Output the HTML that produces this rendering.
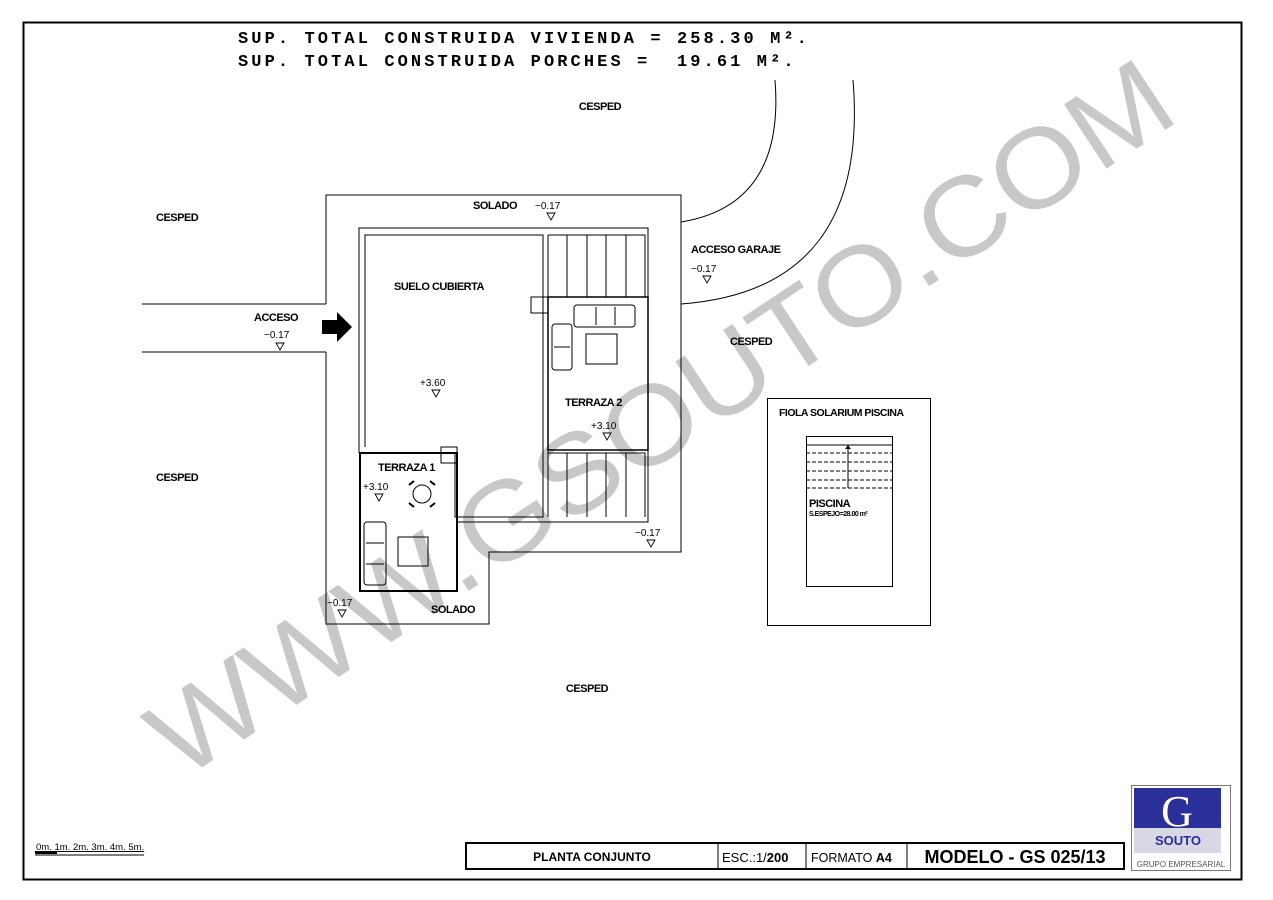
<!DOCTYPE html>
<html><head><meta charset="utf-8"><style>
html,body{margin:0;padding:0;background:#fff}
svg{display:block}
text{font-family:"Liberation Sans",sans-serif}
.b{font-weight:bold;font-size:11px;letter-spacing:-0.5px}
.n{font-size:10px}
</style></head><body>
<svg width="1273" height="900" viewBox="0 0 1273 900" xmlns="http://www.w3.org/2000/svg">
<rect x="0" y="0" width="1273" height="900" fill="#fff"/>
<rect x="23.5" y="22.5" width="1218" height="857" fill="none" stroke="#000" stroke-width="2"/>

<text x="238" y="43" font-size="17" font-weight="bold" letter-spacing="3.1" style="font-family:'Liberation Mono',monospace">SUP. TOTAL CONSTRUIDA VIVIENDA = 258.30 M².</text>
<text x="238" y="66" font-size="17" font-weight="bold" letter-spacing="3.1" style="font-family:'Liberation Mono',monospace">SUP. TOTAL CONSTRUIDA PORCHES =&#160; 19.61 M².</text>

<!-- watermark -->
<text x="665" y="455" font-size="112" fill="#c8c8c8" text-anchor="middle" textLength="1200" lengthAdjust="spacingAndGlyphs" transform="rotate(-33.5 665 425)">WWW.GSOUTO.COM</text>

<g fill="none" stroke="#000" stroke-width="1">
<path d="M681,222 Q785,205 775,80"/>
<path d="M681,304 Q870,290 853,80"/>
<path d="M326,304 V195 H681 V552 H489 V624 H326 V352"/>
<path d="M142,304 H326 M142,352 H326"/>
<path d="M359,453 V228 H648 V522 H457"/>
<path d="M365,447 V235 H543 V517 H455 V453"/>
<path d="M548,235 V517"/>
<rect x="360" y="453" width="97" height="138" stroke-width="2"/>
<rect x="441" y="447" width="16" height="16"/>
<rect x="531" y="297" width="17" height="16"/>
<rect x="548" y="297" width="100" height="153" stroke-width="1.5"/>
<path d="M548,235 H645 V297 M567,235 V297 M587,235 V297 M606,235 V297 M626,235 V297"/>
<path d="M548,453 H645 V517 M567,453 V517 M587,453 V517 M606,453 V517 M626,453 V517"/>
<rect x="574" y="305" width="61" height="22" rx="3"/>
<path d="M596,307 V325 M615,307 V325"/>
<rect x="552" y="324" width="20" height="46" rx="3"/>
<path d="M554,347 H570"/>
<rect x="586" y="334" width="31" height="30"/>
<circle cx="422" cy="494" r="9"/>
<path d="M409,485 l5,-4 M435,485 l-5,-4 M409,503 l5,4 M435,503 l-5,4" stroke-width="2"/>
<rect x="364" y="522" width="22" height="63" rx="3"/>
<path d="M366,543 H384 M366,564 H384"/>
<rect x="398" y="537" width="30" height="29"/>
<rect x="767.5" y="398.5" width="163" height="227"/>
<rect x="806.5" y="436.5" width="86" height="150"/>
<path d="M806,445 H892"/>
<path d="M806,453 H892 M806,462 H892 M806,471 H892 M806,480 H892 M806,488 H892" stroke-dasharray="4,2"/>
<path d="M848,448 V488"/>
<rect x="466" y="843" width="658" height="26" stroke-width="2"/>
<path d="M718,843 V869 M806,843 V869 M907,843 V869"/>
<rect x="1131.5" y="785.5" width="99" height="85" stroke="#777"/>
</g>
<path d="M845,449 l3,-4 l3,4z" fill="#000"/>
<path d="M322,320 H337 V312 L352,327 L337,342 V334 H322Z" fill="#000"/>

<g fill="none" stroke="#000" stroke-width="0.9">
<path d="M547,213 h8 l-4,7z"/><path d="M703,276 h8 l-4,7z"/><path d="M276,343 h8 l-4,7z"/>
<path d="M432,390 h8 l-4,7z"/><path d="M603,433 h8 l-4,7z"/><path d="M375,494 h8 l-4,7z"/>
<path d="M647,540 h8 l-4,7z"/><path d="M338,610 h8 l-4,7z"/>
</g>

<g class="b">
<text x="600" y="110" text-anchor="middle">CESPED</text>
<text x="156" y="221">CESPED</text>
<text x="156" y="481">CESPED</text>
<text x="587" y="692" text-anchor="middle">CESPED</text>
<text x="730" y="345">CESPED</text>
<text x="473" y="209">SOLADO</text>
<text x="431" y="613">SOLADO</text>
<text x="691" y="253">ACCESO GARAJE</text>
<text x="254" y="321">ACCESO</text>
<text x="394" y="290">SUELO CUBIERTA</text>
<text x="565" y="406">TERRAZA 2</text>
<text x="378" y="471">TERRAZA 1</text>
<text x="779" y="416" font-size="10.5">FIOLA SOLARIUM PISCINA</text>
<text x="809" y="507">PISCINA</text>
<text x="809" y="516" font-size="7">S.ESPEJO=28.00 m²</text>
</g>
<g class="n">
<text x="535" y="209">−0.17</text>
<text x="691" y="272">−0.17</text>
<text x="264" y="338">−0.17</text>
<text x="420" y="386">+3.60</text>
<text x="591" y="429">+3.10</text>
<text x="363" y="490">+3.10</text>
<text x="635" y="536">−0.17</text>
<text x="327" y="606">−0.17</text>
</g>

<text x="36" y="850" font-size="9.5" text-decoration="underline">0m. 1m.  2m.  3m.  4m.  5m.</text>
<rect x="35" y="851" width="22" height="3" fill="#000"/>
<path d="M35,855 H144" stroke="#000" stroke-width="1"/>

<text x="592" y="861" text-anchor="middle" font-size="12" font-weight="bold">PLANTA CONJUNTO</text>
<text x="722" y="862" font-size="13">ESC.:1/<tspan font-weight="bold">200</tspan></text>
<text x="811" y="862" font-size="12.5">FORMATO <tspan font-weight="bold">A4</tspan></text>
<text x="1015" y="863" text-anchor="middle" font-size="18" font-weight="bold">MODELO - GS 025/13</text>
<rect x="1134" y="788" width="87" height="40" fill="#2a2f9a"/>
<text x="1177" y="826" text-anchor="middle" font-size="44" fill="#fff" style="font-family:'Liberation Serif',serif">G</text>
<rect x="1134" y="828" width="87" height="25" fill="#d8d8e4"/>
<text x="1178" y="845" text-anchor="middle" font-size="13" font-weight="bold" fill="#2a2f9a">SOUTO</text>
<text x="1181" y="867" text-anchor="middle" font-size="8" fill="#555">GRUPO EMPRESARIAL</text>
</svg>
</body></html>
